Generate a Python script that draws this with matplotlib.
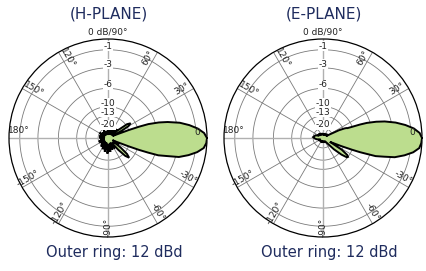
import numpy as np
import matplotlib
matplotlib.use("Agg")
import matplotlib.pyplot as plt

# ring levels (dB below the outer ring) and angle labels
ring_db = [-1, -3, -6, -10, -13, -20]
ring_labels = ["-1", "-3", "-6", "-10", "-13", "-20"]
angle_ticks = [0, 30, 60, 120, 150, 180, -150, -120, -90, -60, -30]
angle_labels = ["0", "30°", "60°", "120°", "150°", "180°", "-150°", "-120°", "-90°", "-60°", "-30°"]

titles = ["(H-PLANE)", "(E-PLANE)"]
captions = ["Outer ring: 12 dBd", "Outer ring: 12 dBd"]

# H-plane pattern, angle (deg) vs relative level (dB)
h_ang = [0, 3, 6, 9, 12, 15, 17, 19, 20, 21, 22, 24, 26, 28, 30, 33, 36, 38, 41,
         44, 48, 52, 56, 60, 65, 70, 75, 80, 86, 92, 98, 105, 112, 118, 125, 132,
         140, 148, 155, 162, 170, 176, 182, 188, 195, 202, 210, 217, 224, 231,
         238, 244, 250, 256, 262, 268, 274, 280, 286, 292, 298, 304, 308, 311,
         314, 317, 320, 323, 326, 330, 334, 336, 338, 339, 340, 341, 343, 345,
         348, 351, 354, 357, 360]
h_db = [0, -0.25, -0.8, -1.6, -2.6, -4.1, -5.4, -7.3, -9.5, -13, -20, -26, -22, -16,
        -12.5, -11.3, -12.5, -18, -27, -18, -26, -20, -28, -19, -27, -21, -28, -22,
        -30, -22, -29, -23, -30, -21, -28, -22, -29, -20, -27, -21, -30, -21,
        -28, -22, -29, -20, -27, -21, -28, -19, -26, -18, -27, -17, -25, -16,
        -24, -17, -25, -18, -26, -18, -24, -16, -12, -10.7, -12, -16, -24, -18,
        -26, -20, -13, -9.5, -7.3, -5.4, -4.1, -2.6, -1.6, -0.8, -0.25, -0.05, 0]

# E-plane pattern
e_ang = [0, 3, 6, 9, 12, 15, 17, 19, 20, 21, 22, 23, 24, 26, 28, 31, 35, 40, 46,
         52, 60, 70, 80, 90, 100, 110, 120, 130, 140, 150, 160, 168, 175, 180,
         185, 192, 200, 210, 220, 230, 240, 250, 260, 270, 280, 290, 300, 308,
         314, 318, 321, 323, 325, 328, 331, 334, 336, 338, 339, 340, 341, 343,
         345, 348, 351, 354, 357, 360]
e_db = [0, -0.2, -0.7, -1.5, -2.5, -3.8, -5.0, -6.6, -8.0, -10, -11.5, -11.8, -12.5,
        -15, -22, -28, -24, -29, -25, -30, -26, -31, -27, -30, -26, -30, -25,
        -29, -24, -27, -22, -21, -20, -21, -22, -24, -28, -26, -30, -27, -31,
        -26, -30, -27, -31, -26, -29, -24, -16, -12, -10.2, -10, -10.5, -13, -22,
        -18, -14, -10, -8.0, -6.6, -5.0, -3.8, -2.5, -1.5, -0.7, -0.2, -0.05, 0]

navy = "#1f2c5e"
green = "#bcdd8e"


def to_r(db):
    return 10 ** (np.asarray(db, dtype=float) / 20.0)


W, H = 427, 271
fig = plt.figure(figsize=(W / 100, H / 100), dpi=100)
fig.patch.set_facecolor("white")

centers = [(108, 138), (323, 138)]
radius = 99
patterns = [(h_ang, h_db), (e_ang, e_db)]

for k in range(2):
    cx, cy = centers[k]
    ax = fig.add_axes([(cx - radius) / W, (H - cy - radius) / H,
                       2 * radius / W, 2 * radius / H], projection="polar")
    ax.set_ylim(0, 1)
    ax.set_xticks([])
    ax.set_yticks([])
    ax.grid(False)
    ax.spines["polar"].set_linewidth(0.9)
    ax.spines["polar"].set_color("black")

    # rings
    t = np.linspace(0, 2 * np.pi, 361)
    for rr in to_r(ring_db):
        ax.plot(t, np.full_like(t, rr), color="#7a7a7a", lw=0.6, zorder=1)
    # spokes
    for a in range(0, 360, 30):
        if a % 90 == 0:
            ax.plot([np.deg2rad(a)] * 2, [0, 1], color="#b0b0b0", lw=1.0, zorder=1)
        else:
            ax.plot([np.deg2rad(a)] * 2, [0, 1], color="#7a7a7a", lw=0.6, zorder=1)

    ang, db = patterns[k]
    th = np.deg2rad(ang)
    r = to_r(db)
    ax.fill(th, r, facecolor=green, edgecolor="black", lw=1.4, zorder=3)

    # angle labels
    for a, lab in zip(angle_ticks, angle_labels):
        if a == -90:
            off, rot = 0, 90
        elif np.cos(np.deg2rad(a)) > 0.01:
            off, rot = 3.5, a
        else:
            off, rot = -3, a - 180 if a > 0 else a + 180
        if a == 0:
            rot = 0
        if a == 180:
            off, rot = -5, 0
        ax.text(np.deg2rad(a + off), 0.9, lab, fontsize=6.5, rotation=rot,
                ha="center", va="center", color="#222222", zorder=4,
                rotation_mode="anchor")
    # ring labels
    for rr, lab in zip(to_r(ring_db), ring_labels):
        ax.text(np.pi / 2, rr + 0.035, lab, fontsize=6.5, ha="center", va="center",
                color="#222222", zorder=4,
                bbox=dict(boxstyle="square,pad=0.05", fc="white", ec="none"))

    fig.text(cx / W, 1 - (cy - radius - 7) / H, "0 dB/90°", fontsize=6.5,
             ha="center", va="center", color="#222222")
    fig.text((cx + 1) / W, 1 - 14 / H, titles[k], fontsize=11, ha="center",
             va="center", color=navy)
    fig.text((cx + 6) / W, 1 - 253 / H, captions[k], fontsize=10.5, ha="center",
             va="center", color=navy)

fig.savefig("out.png", dpi=100, facecolor="white")
